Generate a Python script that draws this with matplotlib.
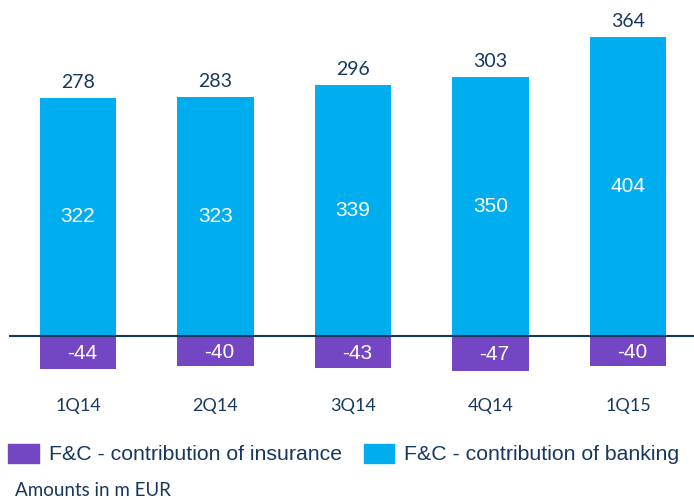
import matplotlib
matplotlib.use('Agg')
from matplotlib import pyplot as plt
from matplotlib.patches import Patch
import numpy as np

quarters = ['1Q14', '2Q14', '3Q14', '4Q14', '1Q15']
banking = [322, 323, 339, 350, 404]
insurance = [-44, -40, -43, -47, -40]
totals = [278, 283, 296, 303, 364]

blue = '#00AEEF'
purple = '#7446C4'
navy = '#17375E'

fig = plt.figure(figsize=(6.94, 4.99), dpi=100)
ax = fig.add_axes([9.25 / 694, 119 / 499, 687.5 / 694, 380 / 499])

x = np.arange(len(quarters))
w = 0.555
ax.bar(x, banking, w, color=blue, zorder=2)
ax.bar(x, insurance, w, color=purple, zorder=2)
ax.axhline(0, color=navy, lw=1.5, zorder=3)

for i in range(len(x)):
    ax.text(x[i], banking[i] / 2, str(banking[i]), ha='center', va='center',
            color='white', fontsize=15, family='Liberation Sans')
    ax.text(x[i] + 0.03, insurance[i] / 2 - 2, str(insurance[i]), ha='center', va='center',
            color='white', fontsize=15, family='Liberation Sans')
    ax.annotate(str(totals[i]), (x[i], banking[i]), xytext=(0, 11), textcoords='offset points',
                ha='center', va='center', color=navy, fontsize=14, family='Lato')

ax.set_xlim(-0.5, 4.5)
ax.set_ylim(-59.5, 454)
ax.set_xticks(x)
ax.set_xticklabels(quarters, color=navy, fontsize=13, family='Lato')
ax.tick_params(axis='x', length=0, pad=13)
ax.set_yticks([])
for s in ax.spines.values():
    s.set_visible(False)

handles = [Patch(color=purple), Patch(color=blue)]
labels = ['F&C - contribution of insurance', 'F&C - contribution of banking']
leg = fig.legend(handles, labels, loc='center left', bbox_to_anchor=(2 / 694, 1 - 454 / 499),
                 ncol=2, frameon=False, handlelength=1.42, handleheight=1.0,
                 handletextpad=0.5, columnspacing=1.0, borderaxespad=0, borderpad=0.3,
                 prop={'family': 'Liberation Sans', 'size': 15.3})
for t in leg.get_texts():
    t.set_color(navy)

fig.text(15 / 694, 1 - 490 / 499, 'Amounts in m EUR', ha='left', va='center',
         color=navy, fontsize=13.5, family='Lato')

fig.savefig('out.png', dpi=100)
